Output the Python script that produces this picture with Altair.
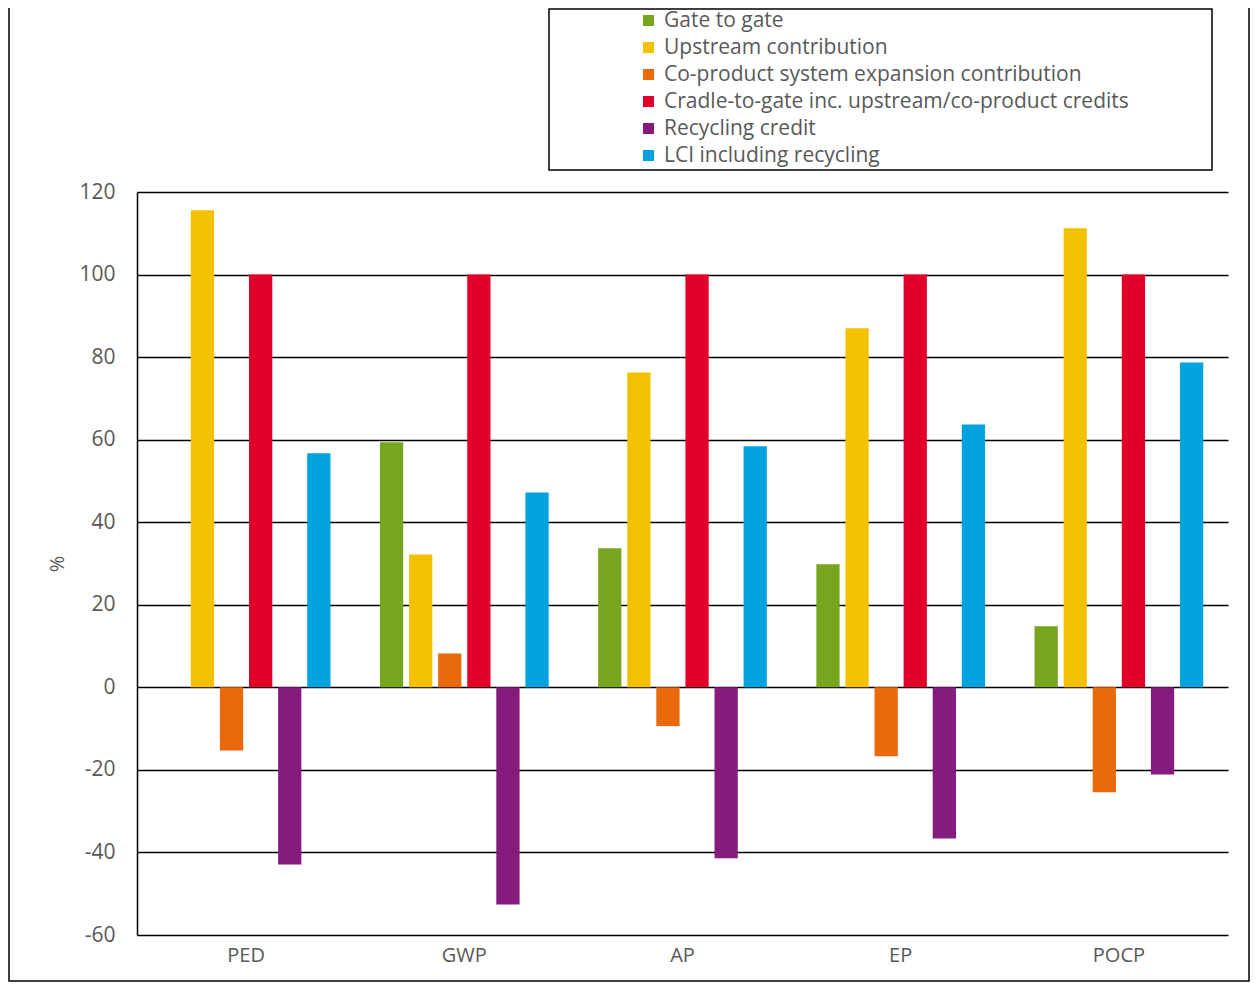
import altair as alt
import pandas as pd

categories = ["PED", "GWP", "AP", "EP", "POCP"]
series = [
    "Gate to gate",
    "Upstream contribution",
    "Co-product system expansion contribution",
    "Cradle-to-gate inc. upstream/co-product credits",
    "Recycling credit",
    "LCI including recycling",
]
colors = ["#78A51E", "#F4C100", "#EA690C", "#E1002A", "#841B7D", "#00A3DD"]

gate_to_gate = [None, 59.4, 33.7, 29.8, 14.8]
upstream = [115.6, 32.2, 76.3, 87.0, 111.2]
coproduct = [-15.3, 8.2, -9.4, -16.7, -25.4]
cradle_to_gate = [100, 100, 100, 100, 100]
recycling_credit = [-42.9, -52.6, -41.4, -36.6, -21.1]
lci_recycling = [56.7, 47.2, 58.4, 63.7, 78.7]

values_by_series = [gate_to_gate, upstream, coproduct, cradle_to_gate,
                    recycling_credit, lci_recycling]

rows = []
for s, vals in zip(series, values_by_series):
    for c, v in zip(categories, vals):
        if v is not None:
            rows.append({"category": c, "series": s, "value": v})
df = pd.DataFrame(rows)

FONT = "Open Sans"
GREY = "#595959"

bars = alt.Chart(df).mark_bar().encode(
    x=alt.X("category:N", sort=categories,
            scale=alt.Scale(paddingInner=0.2, paddingOuter=0.1),
            axis=alt.Axis(title=None, labelAngle=0, domain=False, ticks=False,
                          labelPadding=10, labelFontSize=20, labelColor=GREY,
                          labelFont=FONT, grid=False)),
    xOffset=alt.XOffset("series:N", sort=series,
                        scale=alt.Scale(domain=series, paddingInner=0.2, paddingOuter=0.1)),
    y=alt.Y("value:Q",
            scale=alt.Scale(domain=[-60, 120], nice=False),
            axis=alt.Axis(title="%", values=list(range(-60, 121, 20)),
                          labelExpr="'' + datum.value",
                          grid=True, gridColor="#000000", gridWidth=1.5,
                          domain=True, domainColor="#000000", domainWidth=1.5,
                          ticks=False, labelPadding=22, labelFontSize=21,
                          labelColor=GREY, labelFont=FONT,
                          titleFont=FONT, titleFontSize=20, titleColor=GREY,
                          titleFontWeight="normal", titleAngle=-90,
                          titleX=-80, titleY=371.5, titleAlign="center",
                          titleBaseline="middle")),
    color=alt.Color("series:N", sort=series,
                    scale=alt.Scale(domain=series, range=colors),
                    legend=alt.Legend(title=None, orient="none", legendX=501,
                                      legendY=-182, symbolType="square",
                                      symbolSize=121, symbolStrokeWidth=0,
                                      labelFontSize=21, labelFont=FONT,
                                      labelColor=GREY, labelOffset=5,
                                      rowPadding=5, padding=0,
                                      labelLimit=0)),
)

one = alt.Data(values=[{}])

legend_box = alt.Chart(one).mark_rect(fill="white", stroke="#000000",
                                      strokeWidth=1.5).encode(
    x=alt.value(412), x2=alt.value(1075), y=alt.value(-183), y2=alt.value(-22))

outer_box = alt.Chart(one).mark_rect(fill=None, stroke="#000000",
                                     strokeWidth=1.5).encode(
    x=alt.value(-128), x2=alt.value(1112), y=alt.value(-200), y2=alt.value(789))

chart = alt.layer(outer_box, legend_box, bars).properties(
    width=1091, height=743,
    autosize=alt.AutoSizeParams(type="none"),
    padding={"left": 129, "top": 184, "right": 22, "bottom": 47},
    background="white",
).configure_view(stroke=None)

chart.save("out.html", embed_options={"renderer": "svg", "actions": False})
